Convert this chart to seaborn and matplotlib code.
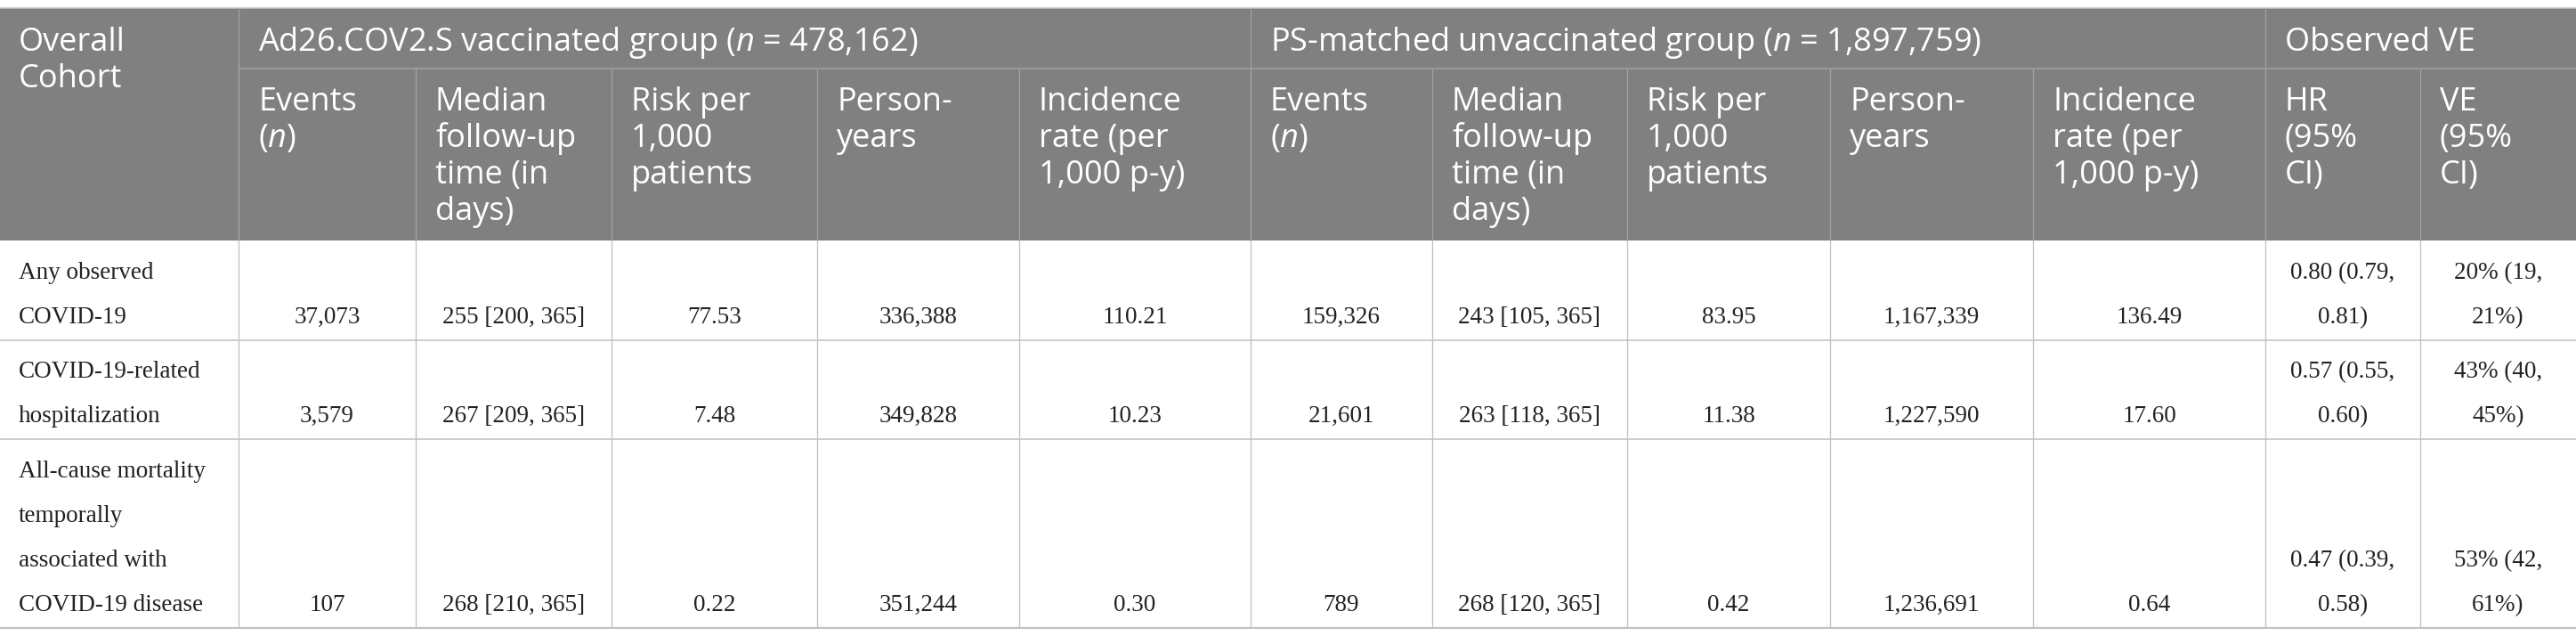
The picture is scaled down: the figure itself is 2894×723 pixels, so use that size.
import matplotlib
matplotlib.use("Agg")
import matplotlib.pyplot as plt
import seaborn as sns

# ---- table content ----
corner_label = ["Overall", "Cohort"]
group_titles = [
    "Ad26.COV2.S vaccinated group ($n$ = 478,162)",
    "PS-matched unvaccinated group ($n$ = 1,897,759)",
    "Observed VE",
]
group_sizes = [5, 5, 2]
sub_headers = [
    ["Events", "($n$)"],
    ["Median", "follow-up", "time (in", "days)"],
    ["Risk per", "1,000", "patients"],
    ["Person-", "years"],
    ["Incidence", "rate (per", "1,000 p-y)"],
]
ve_headers = [["HR", "(95%", "CI)"], ["VE", "(95%", "CI)"]]

outcomes = [
    ["Any observed", "COVID-19"],
    ["COVID-19-related", "hospitalization"],
    ["All-cause mortality", "temporally", "associated with", "COVID-19 disease"],
]
vac_events = ["37,073", "3,579", "107"]
vac_median = ["255 [200, 365]", "267 [209, 365]", "268 [210, 365]"]
vac_risk = ["77.53", "7.48", "0.22"]
vac_py = ["336,388", "349,828", "351,244"]
vac_ir = ["110.21", "10.23", "0.30"]
unv_events = ["159,326", "21,601", "789"]
unv_median = ["243 [105, 365]", "263 [118, 365]", "268 [120, 365]"]
unv_risk = ["83.95", "11.38", "0.42"]
unv_py = ["1,167,339", "1,227,590", "1,236,691"]
unv_ir = ["136.49", "17.60", "0.64"]
hr_ci = [["0.80 (0.79,", "0.81)"], ["0.57 (0.55,", "0.60)"], ["0.47 (0.39,", "0.58)"]]
ve_ci = [["20% (19,", "21%)"], ["43% (40,", "45%)"], ["53% (42,", "61%)"]]

# ---- layout (pixels) ----
W, H = 2894, 723
col_edges = [0, 268, 467, 687, 918, 1145, 1405, 1609, 1828, 2056, 2284, 2545, 2719, 2894]
table_top, head_mid, head_bottom = 9, 77, 270
row_bottoms = [382, 493, 705]

header_bg = "#808080"
header_line = "#a3a3a3"
body_line = "#c2c2c2"
body_color = "#222222"

sns.set_theme(style="white")
plt.rcParams["font.family"] = ["Open Sans", "DejaVu Sans"]
plt.rcParams["mathtext.fontset"] = "custom"
plt.rcParams["mathtext.rm"] = "Open Sans"
plt.rcParams["mathtext.it"] = "Open Sans:italic"

fig = plt.figure(figsize=(W / 100, H / 100), dpi=100)
ax = fig.add_axes([0, 0, 1, 1])
ax.set_xlim(0, W)
ax.set_ylim(H, 0)
ax.axis("off")

PX = 0.72  # points per pixel at 100 dpi
head_size = 26
body_size = 19.5


def lines_at(x, first_base, step, lines, **kw):
    for i, ln in enumerate(lines):
        ax.text(x, first_base + i * step, ln, va="baseline", **kw)


# header background
ax.add_patch(plt.Rectangle((0, table_top), W, head_bottom - table_top,
                           facecolor=header_bg, edgecolor="none", zorder=0))
ax.plot([0, W], [table_top, table_top], color="#c8c8c8", lw=1.5 * PX, zorder=2)

# header row 1
lines_at(col_edges[0] + 21, 57, 41, corner_label, color="white", fontsize=head_size)
start = 1
for title, n in zip(group_titles, group_sizes):
    x0 = col_edges[start]
    lines_at(x0 + 22, 57, 41, [title], color="white", fontsize=head_size)
    ax.plot([x0, x0], [table_top, head_bottom], color=header_line, lw=1.2 * PX)
    start += n
ax.plot([col_edges[1], W], [head_mid, head_mid], color=header_line, lw=1.5 * PX)

# header row 2
all_subs = sub_headers + sub_headers + ve_headers
for i, sub in enumerate(all_subs):
    x0 = col_edges[i + 1]
    lines_at(x0 + 22, 124, 41, sub, color="white", fontsize=head_size)
    ax.plot([x0, x0], [head_mid, head_bottom], color=header_line, lw=1.2 * PX)

# body
cols = [vac_events, vac_median, vac_risk, vac_py, vac_ir,
        unv_events, unv_median, unv_risk, unv_py, unv_ir]
serif = ["Liberation Serif", "DejaVu Serif"]
row_top = head_bottom
for r, bottom in enumerate(row_bottoms):
    base = bottom - 19
    lab = outcomes[r]
    lines_at(col_edges[0] + 21, base - 50 * (len(lab) - 1), 50, lab,
             color=body_color, fontsize=body_size, family=serif)
    cells = [[c[r]] for c in cols] + [hr_ci[r], ve_ci[r]]
    for j, cell in enumerate(cells):
        xc = (col_edges[j + 1] + col_edges[j + 2]) / 2
        lines_at(xc, base - 50 * (len(cell) - 1), 50, cell, ha="center",
                 color=body_color, fontsize=body_size, family=serif)
    for x in col_edges[1:-1]:
        ax.plot([x, x], [row_top, bottom], color=body_line, lw=1.3 * PX)
    lw = 2.2 if r == len(row_bottoms) - 1 else 1.6
    ax.plot([0, W], [bottom, bottom], color=body_line, lw=lw * PX)
    row_top = bottom

fig.savefig("out.png", dpi=100, facecolor="white")
